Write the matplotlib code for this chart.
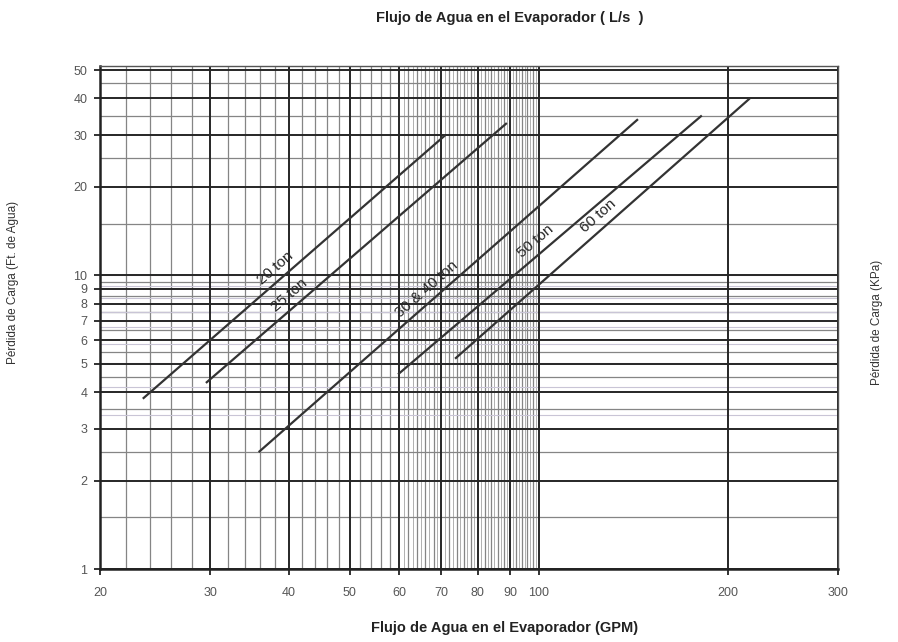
import matplotlib
matplotlib.use("Agg")
import matplotlib.pyplot as plt
import numpy as np

plt.rcParams["font.family"] = ["Liberation Sans", "DejaVu Sans"]

# curvas de pérdida de carga (GPM, ft de agua): inicio y fin de cada recta
models = ["20 ton", "25 ton", "30 & 40 ton", "50 ton", "60 ton"]
gpm_start = [23.4, 29.5, 35.8, 59.7, 73.6]
gpm_end = [71.0, 89.0, 144.0, 182.0, 217.0]
ft_start = [3.8, 4.3, 2.5, 4.6, 5.2]
ft_end = [30.0, 33.0, 34.0, 35.0, 40.0]
# posición de la etiqueta (fracción a lo largo de la recta)
label_frac = [0.46, 0.30, 0.46, 0.475, 0.51]

x_ticks = [20, 30, 40, 50, 60, 70, 80, 90, 100, 200, 300]
y_ticks = [1, 2, 3, 4, 5, 6, 7, 8, 9, 10, 20, 30, 40, 50]

x_minor = (list(range(22, 100, 2)) + [120, 140, 160, 180, 220, 240, 260, 280])
x_fine = [v for v in range(61, 100, 2)]
y_minor = [1.5, 2.5, 3.5, 4.5, 5.5, 6.5, 7.5, 8.5, 9.5, 15, 25, 35, 45]
kpa_lines = [10, 12.5, 15, 17.5, 20, 22.5, 25, 27.5, 30]
FT_PER_KPA = 1 / 2.989

fig = plt.figure(figsize=(8.98, 6.42), dpi=100)
ax = fig.add_axes([100 / 898, 1 - 569 / 642, 738 / 898, 503 / 642])
ax.set_xscale("log")
ax.set_yscale("log")
ax.set_xlim(20, 300)
ax.set_ylim(1, 51.6)

# papel cuadriculado
for v in x_fine:
    ax.axvline(v, color="#b0b0b0", lw=0.7, zorder=1)
for v in x_minor:
    if v % 10:
        ax.axvline(v, color="#858585", lw=0.9, zorder=1)
for v in y_minor:
    ax.axhline(v, color="#858585", lw=0.9, zorder=1)
for k in kpa_lines:
    ax.axhline(k * FT_PER_KPA, color="#c9c5d6", lw=0.8, zorder=1)
for v in x_ticks:
    ax.axvline(v, color="#262626", lw=1.4, zorder=2)
for v in y_ticks:
    ax.axhline(v, color="#262626", lw=1.4, zorder=2)

for name, x0, x1, y0, y1, f in zip(models, gpm_start, gpm_end, ft_start, ft_end, label_frac):
    ax.plot([x0, x1], [y0, y1], color="#333333", lw=1.6, zorder=3, solid_capstyle="butt")
    lx = x0 * (x1 / x0) ** f
    ly = y0 * (y1 / y0) ** f
    p0 = ax.transData.transform((x0, y0))
    p1 = ax.transData.transform((x1, y1))
    ang = np.degrees(np.arctan2(p1[1] - p0[1], p1[0] - p0[0]))
    ax.annotate(name, (lx, ly), xytext=(-5, 7), textcoords="offset points",
                rotation=ang, rotation_mode="anchor", ha="center", va="center",
                fontsize=11, color="#262626", zorder=4)

ax.xaxis.set_major_locator(matplotlib.ticker.FixedLocator(x_ticks))
ax.yaxis.set_major_locator(matplotlib.ticker.FixedLocator(y_ticks))
ax.xaxis.set_major_formatter(matplotlib.ticker.FixedFormatter([str(v) for v in x_ticks]))
ax.yaxis.set_major_formatter(matplotlib.ticker.FixedFormatter([str(v) for v in y_ticks]))
ax.xaxis.set_minor_locator(matplotlib.ticker.NullLocator())
ax.yaxis.set_minor_locator(matplotlib.ticker.NullLocator())
ax.tick_params(axis="both", which="major", length=4, width=1.3, color="#222222",
               labelsize=9, labelcolor="#555555")
ax.tick_params(axis="x", pad=9)
ax.tick_params(axis="y", pad=5)

for s in ["left", "bottom"]:
    ax.spines[s].set_linewidth(1.8)
    ax.spines[s].set_color("#222222")
for s in ["top", "right"]:
    ax.spines[s].set_linewidth(1.0)
    ax.spines[s].set_color("#555555")

fig.text(0.568, 0.972, "Flujo de Agua en el Evaporador ( L/s  )", ha="center", va="center",
         fontsize=10.5, fontweight="bold", color="#222222")
fig.text(0.562, 0.022, "Flujo de Agua en el Evaporador (GPM)", ha="center", va="center",
         fontsize=10.5, fontweight="bold", color="#222222")
fig.text(0.014, 1 - 282 / 642, "Pérdida de Carga (Ft. de Agua)", rotation=90,
         ha="center", va="center", fontsize=8.5, color="#333333")
fig.text(0.977, 1 - 322 / 642, "Pérdida de Carga (KPa)", rotation=90,
         ha="center", va="center", fontsize=8.5, color="#333333")

fig.savefig("out.png", dpi=100)
